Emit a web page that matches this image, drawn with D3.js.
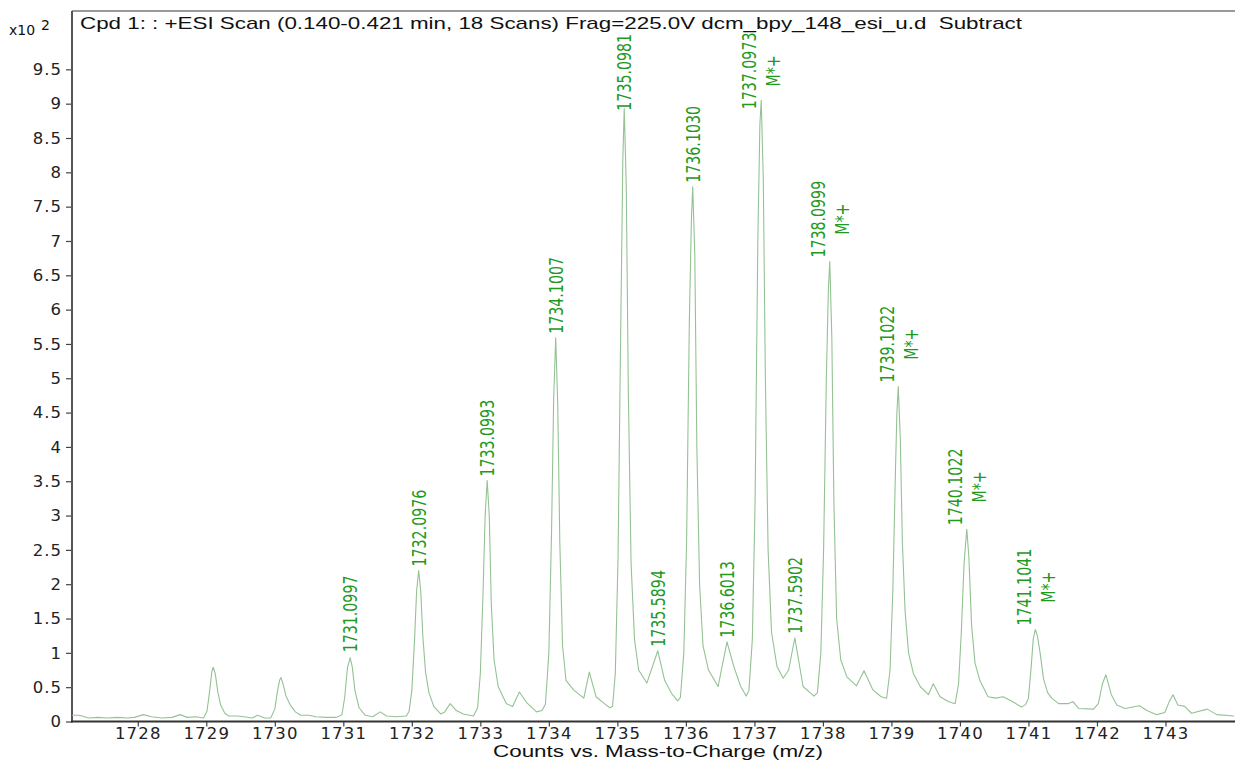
<!DOCTYPE html>
<html>
<head>
<meta charset="utf-8">
<script src="https://cdn.jsdelivr.net/npm/d3@7/dist/d3.min.js"></script>
<style>
    body { margin: 0; background: #fff; }
    svg text { font-family: "DejaVu Sans", sans-serif; }
</style>
</head>
<body>
<div id="chart"></div>
<script>
// spectrum trace: [m/z, counts x10^2]
const spectrum = [
    [1727.04, 0.09], [1727.15, 0.09], [1727.28, 0.05], [1727.42, 0.06], [1727.55, 0.05], [1727.70, 0.06],
    [1727.85, 0.05], [1727.95, 0.06], [1728.08, 0.10], [1728.20, 0.07], [1728.35, 0.05], [1728.50, 0.06],
    [1728.62, 0.10], [1728.72, 0.06], [1728.85, 0.07], [1728.96, 0.05], [1729.01, 0.15], [1729.05, 0.45],
    [1729.08, 0.72], [1729.10, 0.79], [1729.13, 0.70], [1729.17, 0.42], [1729.21, 0.24], [1729.27, 0.12],
    [1729.33, 0.08], [1729.45, 0.08], [1729.55, 0.07], [1729.67, 0.05], [1729.75, 0.09], [1729.85, 0.05],
    [1729.94, 0.05], [1730.00, 0.18], [1730.04, 0.45], [1730.07, 0.60], [1730.09, 0.64], [1730.12, 0.55],
    [1730.16, 0.38], [1730.22, 0.25], [1730.30, 0.14], [1730.38, 0.09], [1730.50, 0.09], [1730.60, 0.07],
    [1730.75, 0.06], [1730.90, 0.06], [1730.98, 0.10], [1731.02, 0.35], [1731.06, 0.78], [1731.10, 0.93],
    [1731.13, 0.80], [1731.17, 0.45], [1731.23, 0.20], [1731.32, 0.09], [1731.43, 0.07], [1731.54, 0.14],
    [1731.63, 0.08], [1731.78, 0.07], [1731.92, 0.08],
    [1731.96, 0.15], [1732.00, 0.45], [1732.04, 1.20], [1732.07, 1.90], [1732.10, 2.20], [1732.13, 1.90],
    [1732.16, 1.25], [1732.20, 0.72], [1732.25, 0.42], [1732.32, 0.22], [1732.42, 0.11], [1732.48, 0.14],
    [1732.56, 0.26], [1732.65, 0.16], [1732.75, 0.11], [1732.90, 0.08],
    [1732.96, 0.20], [1733.00, 0.70], [1733.04, 1.90], [1733.07, 3.00], [1733.10, 3.51], [1733.13, 3.00],
    [1733.16, 1.70], [1733.20, 0.90], [1733.26, 0.51], [1733.38, 0.26], [1733.47, 0.22], [1733.57, 0.43],
    [1733.68, 0.27], [1733.82, 0.14], [1733.90, 0.16],
    [1733.95, 0.25], [1734.00, 1.00], [1734.04, 2.80], [1734.07, 4.70], [1734.10, 5.59], [1734.13, 4.60],
    [1734.16, 2.60], [1734.20, 1.10], [1734.25, 0.60], [1734.36, 0.46], [1734.51, 0.34], [1734.59, 0.72],
    [1734.69, 0.36], [1734.81, 0.26], [1734.89, 0.20],
    [1734.93, 0.22], [1734.97, 0.70], [1735.01, 2.40], [1735.05, 5.80], [1735.08, 8.20], [1735.10, 8.93],
    [1735.13, 7.80], [1735.16, 4.80], [1735.20, 2.30], [1735.25, 1.20], [1735.31, 0.75], [1735.43, 0.56],
    [1735.59, 1.03], [1735.69, 0.60], [1735.79, 0.41], [1735.88, 0.30],
    [1735.92, 0.35], [1735.97, 1.00], [1736.01, 2.60], [1736.05, 5.80], [1736.08, 7.30], [1736.10, 7.79],
    [1736.13, 6.80], [1736.16, 4.00], [1736.20, 2.00], [1736.25, 1.10], [1736.33, 0.75], [1736.47, 0.51],
    [1736.60, 1.16], [1736.70, 0.80], [1736.80, 0.51], [1736.88, 0.37],
    [1736.92, 0.45], [1736.97, 1.20], [1737.01, 3.20], [1737.05, 7.00], [1737.08, 8.70], [1737.10, 9.05],
    [1737.13, 7.90], [1737.16, 5.00], [1737.20, 2.50], [1737.25, 1.30], [1737.33, 0.80], [1737.42, 0.63],
    [1737.50, 0.75], [1737.59, 1.22], [1737.71, 0.51], [1737.87, 0.37],
    [1737.92, 0.42], [1737.97, 1.00], [1738.01, 2.50], [1738.05, 5.00], [1738.08, 6.30], [1738.10, 6.70],
    [1738.13, 5.60], [1738.16, 3.20], [1738.20, 1.50], [1738.26, 0.90], [1738.35, 0.65], [1738.49, 0.52],
    [1738.60, 0.74], [1738.73, 0.46], [1738.85, 0.36],
    [1738.93, 0.34], [1738.98, 0.75], [1739.02, 1.90], [1739.06, 3.70], [1739.08, 4.50], [1739.10, 4.88],
    [1739.13, 4.10], [1739.16, 2.60], [1739.20, 1.60], [1739.25, 1.00], [1739.32, 0.70], [1739.42, 0.51],
    [1739.54, 0.39], [1739.61, 0.55], [1739.71, 0.36], [1739.83, 0.29],
    [1739.93, 0.26], [1739.98, 0.55], [1740.02, 1.30], [1740.06, 2.30], [1740.10, 2.80], [1740.13, 2.40],
    [1740.17, 1.40], [1740.22, 0.85], [1740.29, 0.60], [1740.41, 0.36], [1740.52, 0.34], [1740.63, 0.36],
    [1740.73, 0.31], [1740.90, 0.21],
    [1740.96, 0.25], [1741.00, 0.34], [1741.04, 0.80], [1741.07, 1.20], [1741.10, 1.34], [1741.13, 1.25],
    [1741.17, 1.00], [1741.22, 0.62], [1741.28, 0.42], [1741.34, 0.34], [1741.44, 0.26], [1741.58, 0.26],
    [1741.65, 0.29], [1741.73, 0.19], [1741.95, 0.18], [1742.02, 0.26], [1742.08, 0.55], [1742.13, 0.68],
    [1742.21, 0.39], [1742.29, 0.24], [1742.41, 0.19], [1742.62, 0.23], [1742.73, 0.16], [1742.87, 0.10],
    [1742.99, 0.13], [1743.06, 0.30], [1743.11, 0.39], [1743.18, 0.24], [1743.28, 0.22], [1743.38, 0.12],
    [1743.61, 0.18], [1743.75, 0.10], [1744.00, 0.08]
];

// peak annotations
const labelMz = [1731.0997, 1732.0976, 1733.0993, 1734.1007, 1735.0981, 1735.5894, 1736.1030,
    1736.6013, 1737.0973, 1737.5902, 1738.0999, 1739.1022, 1740.1022, 1741.1041];
const labelAt = [0.95, 2.20, 3.51, 5.59, 8.84, 1.03, 7.79, 1.16, 8.86, 1.22, 6.70, 4.88, 2.80, 1.34];
const labelTag = ["", "", "", "", "", "", "", "", "M*+", "", "M*+", "M*+", "M*+", "M*+"];

const xTicks = [1728, 1729, 1730, 1731, 1732, 1733, 1734, 1735, 1736, 1737, 1738, 1739, 1740, 1741, 1742, 1743];
const yTicks = [0, 0.5, 1, 1.5, 2, 2.5, 3, 3.5, 4, 4.5, 5, 5.5, 6, 6.5, 7, 7.5, 8, 8.5, 9, 9.5];

const titleText = "Cpd 1: : +ESI Scan (0.140-0.421 min, 18 Scans) Frag=225.0V dcm_bpy_148_esi_u.d  Subtract";
const xTitle = "Counts vs. Mass-to-Charge (m/z)";

let width = 1235, height = 761;
let plot = { left: 72, top: 11, right: 1234, bottom: 721.5 };

let x = d3.scaleLinear().domain([1727.04, 1744]).range([plot.left, plot.right]);
let y = d3.scaleLinear().domain([0, 10.35]).range([plot.bottom, plot.top]);

let svg = d3
    .select("#chart")
    .append("svg")
    .attr("width", width)
    .attr("height", height);

// frame top
svg.append("line")
    .attr("x1", plot.left).attr("x2", width)
    .attr("y1", plot.top).attr("y2", plot.top)
    .attr("stroke", "#777")
    .attr("stroke-width", 1.5);

// y axis
let yAxis = svg.append("g")
    .attr("transform", `translate(${plot.left},0)`)
    .call(d3.axisLeft(y).tickValues(yTicks).tickSize(6).tickPadding(4).tickFormat(d => String(d)));
yAxis.select(".domain").remove();
yAxis.selectAll(".tick line").attr("stroke", "#444").attr("stroke-width", 1.2);
yAxis.selectAll("text")
    .attr("font-size", 16.5)
    .attr("letter-spacing", 1)
    .attr("fill", "#222");

svg.append("line")
    .attr("x1", plot.left).attr("x2", plot.left)
    .attr("y1", plot.top).attr("y2", plot.bottom + 1)
    .attr("stroke", "#555")
    .attr("stroke-width", 2);

// x axis
let xAxis = svg.append("g")
    .attr("transform", `translate(0,${plot.bottom})`)
    .call(d3.axisBottom(x).tickValues(xTicks).tickSize(5).tickPadding(1).tickFormat(d3.format("d")));
xAxis.select(".domain").remove();
xAxis.selectAll(".tick line").attr("stroke", "#444").attr("stroke-width", 1.2);
xAxis.selectAll("text")
    .attr("font-size", 16.5)
    .attr("letter-spacing", 1.2)
    .attr("fill", "#222");

svg.append("line")
    .attr("x1", plot.left - 1).attr("x2", width)
    .attr("y1", plot.bottom).attr("y2", plot.bottom)
    .attr("stroke", "#333")
    .attr("stroke-width", 2);

// spectrum trace
let line = d3.line().x(d => x(d[0])).y(d => y(d[1]));

svg.append("path")
    .datum(spectrum)
    .attr("d", line)
    .attr("fill", "none")
    .attr("stroke", "#94c294")
    .attr("stroke-width", 1.1)
    .attr("stroke-linejoin", "round");

// peak labels, rotated and narrow
let labels = svg.append("g")
    .attr("fill", "#1f9a1f")
    .style("font-family", "'Liberation Sans', Arial, sans-serif")
    .attr("font-size", 20);

labelMz.forEach((m, i) => {
    let px = x(m);
    let py = y(labelAt[i]) - 4;
    let cx = labelTag[i] ? px - 12 : px;

    let t = labels.append("text")
        .attr("transform", `translate(${cx},${py}) rotate(-90) scale(0.71,1)`)
        .attr("dy", "0.36em")
        .text(m.toFixed(4));

    if (labelTag[i]) {
        let len = t.node().getComputedTextLength() * 0.71;
        labels.append("text")
            .attr("transform", `translate(${px + 12},${py - len / 2}) rotate(-90) scale(0.71,1)`)
            .attr("dy", "0.36em")
            .attr("text-anchor", "middle")
            .text(labelTag[i]);
    }
});

// header texts
svg.append("text")
    .attr("x", 80)
    .attr("y", 29)
    .attr("font-size", 17)
    .attr("fill", "#111")
    .attr("textLength", 942)
    .attr("lengthAdjust", "spacingAndGlyphs")
    .style("font-family", "'Liberation Sans', Arial, sans-serif")
    .style("white-space", "pre")
    .text(titleText);

let mult = svg.append("text")
    .attr("x", 9)
    .attr("y", 35)
    .attr("font-size", 14)
    .attr("fill", "#111");
mult.append("tspan").text("x10");
mult.append("tspan").attr("dx", 6).attr("dy", -5).text("2");

svg.append("text")
    .attr("x", 493)
    .attr("y", 757)
    .attr("font-size", 16.5)
    .attr("fill", "#111")
    .attr("textLength", 330)
    .attr("lengthAdjust", "spacingAndGlyphs")
    .style("font-family", "'Liberation Sans', Arial, sans-serif")
    .text(xTitle);
</script>
</body>
</html>
